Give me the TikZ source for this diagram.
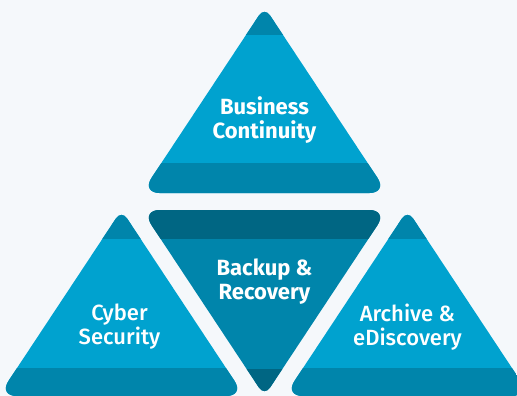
\documentclass[tikz,border=0pt]{standalone}
\usepackage{fontspec}
\setmainfont{Fira Sans}
\newfontfamily\firamed{Fira Sans Medium}
\definecolor{bgc}{HTML}{F5F8FB}
\definecolor{lightb}{HTML}{00A2CF}
\definecolor{darkb}{HTML}{0085AB}
\definecolor{deepb}{HTML}{006683}
\tikzset{
  boldlbl/.style={text=white, align=center, inner sep=0pt, font=\fontsize{22}{24}\selectfont\bfseries},
  medlbl/.style={text=white, align=center, inner sep=0pt, font=\fontsize{22}{24}\selectfont\firamed},
  basecorner/.style={rounded corners=18pt},
  tipcorner/.style={rounded corners=10pt}
}
\begin{document}
\begin{tikzpicture}[x=1pt,y=-1pt]
\fill[bgc] (0,0) rectangle (517,396);
\useasboundingbox (0,0) rectangle (517,396);
% top triangle
\begin{scope}
\clip (264.5,193) [basecorner] -- (141.5,193) [tipcorner] -- (264.5,7) [basecorner] -- (387.5,193) -- cycle;
\fill[lightb] (120,0) rectangle (410,200);
\fill[darkb] (120,0) rectangle (410,35);
\fill[darkb] (120,163) rectangle (410,200);
\end{scope}
% middle inverted triangle
\begin{scope}
\clip (264.5,210) [basecorner] -- (387.5,210) [tipcorner] -- (264.5,396) [basecorner] -- (141.5,210) -- cycle;
\fill[darkb] (120,200) rectangle (410,400);
\fill[deepb] (120,200) rectangle (410,239);
\fill[deepb] (120,369) rectangle (410,400);
\end{scope}
% left triangle
\begin{scope}
\clip (121.5,396) [basecorner] -- (-1.5,396) [tipcorner] -- (121.5,210) [basecorner] -- (244.5,396) -- cycle;
\fill[lightb] (-10,200) rectangle (260,400);
\fill[darkb] (-10,200) rectangle (260,239);
\fill[darkb] (-10,368) rectangle (260,400);
\end{scope}
% right triangle
\begin{scope}
\clip (407.5,396) [basecorner] -- (284.5,396) [tipcorner] -- (407.5,210) [basecorner] -- (530.5,396) -- cycle;
\fill[lightb] (270,200) rectangle (540,400);
\fill[darkb] (270,200) rectangle (540,239);
\fill[darkb] (270,368) rectangle (540,400);
\end{scope}
\node[boldlbl] (bc) at (264.5,120) {Business\\Continuity};
\node[boldlbl] (br) at (264.5,282) {Backup \&\\Recovery};
\node[medlbl] (cs) at (119.5,327) {Cyber\\Security};
\node[medlbl] (ae) at (407.5,327) {Archive \&\\eDiscovery};
\end{tikzpicture}
\end{document}
